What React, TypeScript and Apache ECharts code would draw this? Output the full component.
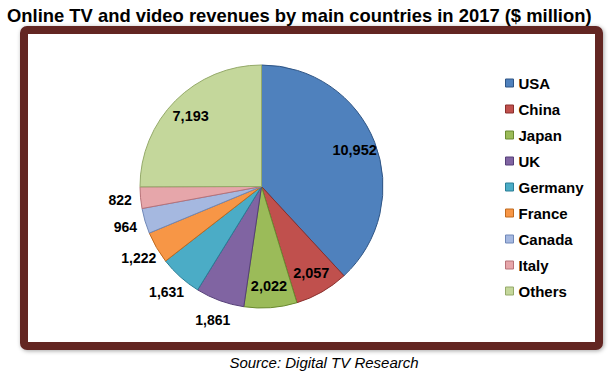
import React, { useEffect, useRef } from "react";
import * as echarts from "echarts";

const categories = ["USA", "China", "Japan", "UK", "Germany", "France", "Canada", "Italy", "Others"];
const revenues = [10952, 2057, 2022, 1861, 1631, 1222, 964, 822, 7193];
const sliceColors = ["#4F81BD", "#C0504D", "#9BBB59", "#8064A2", "#4BACC6", "#F79646", "#A5B8E0", "#E6A6AA", "#C4D79B"];
const borderColors = ["#2F5585", "#8A2F2C", "#6A8A30", "#553F78", "#2A7E96", "#C06A1E", "#7088B8", "#B87278", "#95AA6A"];

const titleText = "Online TV and video revenues by main countries in 2017 ($ million)";
const sourceText = "Source: Digital TV Research";

const FONT = "'Liberation Sans', Arial, sans-serif";
const CX = 261.5;
const CY = 186.5;
const R = 121.5;

export default function App() {
  const ref = useRef<HTMLDivElement>(null);
  useEffect(() => {
    if (!ref.current) return;
    const chart = echarts.init(ref.current, undefined, { renderer: "svg" });
    const total = revenues.reduce((a, b) => a + b, 0);
    const fmt = (v: number) => v.toLocaleString("en-US");
    const isInside = (v: number) => v / total >= 0.07;

    const mainData = categories.map((name, i) => ({
      name,
      value: revenues[i],
      itemStyle: { color: sliceColors[i], borderColor: borderColors[i], borderWidth: 1 },
    }));
    const labelData = (inside: boolean) =>
      categories.map((name, i) => ({
        name,
        value: revenues[i],
        itemStyle: { color: "rgba(0,0,0,0)", borderWidth: 0 },
        label: { show: isInside(revenues[i]) === inside },
      }));
    const labelSeries = (radius: number, inside: boolean, size: number) => ({
      type: "pie",
      center: [CX, CY],
      radius,
      startAngle: 90,
      clockwise: true,
      silent: true,
      avoidLabelOverlap: false,
      emphasis: { disabled: true },
      labelLine: { show: false },
      label: {
        position: "inside",
        formatter: (p: any) => fmt(p.value),
        color: "#000",
        fontFamily: FONT,
        fontWeight: "bold",
        fontSize: size,
      },
      data: labelData(inside),
      z: 5,
    });

    chart.setOption({
      animation: false,
      backgroundColor: "#fff",
      title: {
        text: titleText,
        left: 2,
        top: 1,
        textStyle: { fontFamily: FONT, fontWeight: "bold", fontSize: 18.4, color: "#000" },
      },
      legend: {
        orient: "vertical",
        left: 500,
        top: 70,
        icon: "rect",
        itemWidth: 8,
        itemHeight: 8,
        itemGap: 10,
        selectedMode: false,
        data: categories.map((name, i) => ({ name, itemStyle: { color: sliceColors[i], borderColor: borderColors[i], borderWidth: 1 } })),
        textStyle: { fontFamily: FONT, fontWeight: "bold", fontSize: 15, color: "#000", lineHeight: 16 },
      },
      graphic: [
        {
          type: "rect",
          shape: { x: 24, y: 30, width: 575, height: 316, r: 3 },
          style: {
            fill: "#fff",
            stroke: "#632523",
            lineWidth: 8,
            shadowBlur: 4,
            shadowColor: "rgba(0,0,0,0.35)",
            shadowOffsetX: 1,
            shadowOffsetY: 1,
          },
          z: -10,
          silent: true,
        },
        {
          type: "text",
          x: 324,
          y: 362,
          style: {
            text: sourceText,
            font: `italic 15px ${FONT}`,
            fill: "#000",
            align: "center",
            verticalAlign: "middle",
          },
          silent: true,
        },
      ],
      series: [
        {
          type: "pie",
          center: [CX, CY],
          radius: R,
          startAngle: 90,
          clockwise: true,
          avoidLabelOverlap: false,
          label: { show: false },
          labelLine: { show: false },
          emphasis: { disabled: true },
          data: mainData,
          z: 2,
        },
        labelSeries(2 * (100 - 3), true, 14.5),
        labelSeries(2 * (142 - 3), false, 14),
      ],
    });
    return () => chart.dispose();
  }, []);
  return <div ref={ref} style={{ position: "absolute", left: 0, top: 0, width: 610, height: 375 }} />;
}
